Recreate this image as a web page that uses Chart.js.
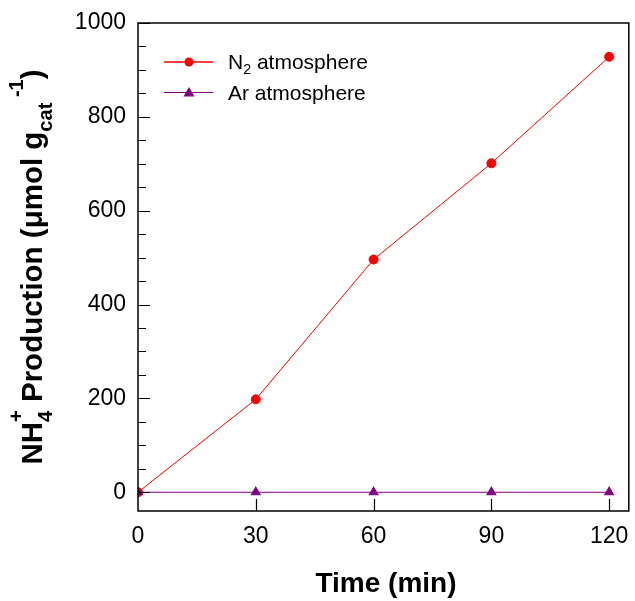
<!DOCTYPE html>
<html>
<head>
<meta charset="utf-8">
<script src="https://cdn.jsdelivr.net/npm/chart.js@4"></script>
<style>
	html, body { margin: 0; padding: 0; background: #fff; }
	#wrap { width: 635px; height: 601px; }
</style>
</head>
<body>
<div id="wrap"><canvas id="prodChart" width="635" height="601"></canvas></div>
<script>
const times = [0, 30, 60, 90, 120];
const n2Values = [0, 198, 496, 701, 928];
const arValues = [0, 0, 0, 0, 0];
const xTicks = [0, 30, 60, 90, 120];
const yTicks = [0, 200, 400, 600, 800, 1000];
const yMinorTicks = [50, 100, 150, 250, 300, 350, 450, 500, 550, 650, 700, 750, 850, 900, 950];

const FONT = '"Liberation Sans", Arial, sans-serif';
const RED = '#ff0000';
const PURPLE = '#800080';

// draws a run of text pieces with sub/superscripts, returns width
const richText = (ctx, parts, x, y, size, bold, draw) => {
	let cx = x;
	parts.forEach(p => {
		const s = p.small ? size * 0.68 : size;
		ctx.font = (bold ? 'bold ' : '') + s + 'px ' + FONT;
		let w = 0;
		p.t.forEach((t, i) => {
			const dy = p.pos[i] === 'sub' ? size * 0.34 : p.pos[i] === 'sup' ? -size * 0.65 : 0;
			if (draw) ctx.fillText(t, cx, y + dy);
			w = Math.max(w, ctx.measureText(t).width);
		});
		cx += w;
	});
	return cx - x;
};

const frame = {
	id: 'frame',
	afterDatasetsDraw(chart) {
		const { ctx, chartArea: a, scales: { x, y } } = chart;
		ctx.save();
		ctx.strokeStyle = '#000';
		ctx.lineWidth = 1.5;
		ctx.strokeRect(a.left, a.top, a.right - a.left, a.bottom - a.top);
		ctx.lineWidth = 1.2;
		ctx.beginPath();
		yTicks.forEach(v => {
			const py = Math.round(y.getPixelForValue(v)) + 0.5;
			ctx.moveTo(a.left, py); ctx.lineTo(a.left + 12, py);
		});
		yMinorTicks.forEach(v => {
			const py = Math.round(y.getPixelForValue(v)) + 0.5;
			ctx.moveTo(a.left, py); ctx.lineTo(a.left + 8, py);
		});
		xTicks.slice(1).forEach(v => {
			const px = Math.round(x.getPixelForValue(v)) + 0.5;
			ctx.moveTo(px, a.bottom); ctx.lineTo(px, a.bottom - 12);
		});
		ctx.stroke();

		// legend
		const items = [
			{ label: [{ t: ['N'], pos: [''] }, { t: ['2'], pos: ['sub'], small: true }, { t: [' atmosphere'], pos: [''] }], color: RED, style: 'circle', y: 62, lw: 1.6 },
			{ label: [{ t: ['Ar atmosphere'], pos: [''] }], color: PURPLE, style: 'triangle', y: 92.5, lw: 1 }
		];
		ctx.textBaseline = 'middle';
		ctx.textAlign = 'left';
		items.forEach(it => {
			ctx.strokeStyle = it.color;
			ctx.fillStyle = it.color;
			ctx.lineWidth = it.lw;
			ctx.beginPath(); ctx.moveTo(164, it.y); ctx.lineTo(213, it.y); ctx.stroke();
			ctx.beginPath();
			if (it.style === 'circle') ctx.arc(189, it.y, 4.5, 0, Math.PI * 2);
			else { ctx.moveTo(189, it.y - 5.5); ctx.lineTo(194.5, it.y + 4); ctx.lineTo(183.5, it.y + 4); ctx.closePath(); }
			ctx.fill();
			ctx.fillStyle = '#000';
			richText(ctx, it.label, 228, Math.round(it.y) + 1, 21, false, true);
		});

		// x title
		ctx.textAlign = 'center';
		ctx.textBaseline = 'alphabetic';
		ctx.font = 'bold 28px ' + FONT;
		ctx.fillText('Time (min)', 386, 592);

		// y title
		const yParts = [
			{ t: ['NH'], pos: [''] },
			{ t: ['4', '+'], pos: ['sub', 'sup'], small: true },
			{ t: [' Production (\u03bcmol g'], pos: [''] },
			{ t: ['cat'], pos: ['sub'], small: true },
			{ t: [' -1'], pos: ['sup'], small: true },
			{ t: [')'], pos: [''] }
		];
		ctx.textAlign = 'left';
		const w = richText(ctx, yParts, 0, 0, 29.5, true, false);
		ctx.translate(42, 267);
		ctx.rotate(-Math.PI / 2);
		richText(ctx, yParts, -w / 2, 0, 29.5, true, true);
		ctx.restore();
	}
};

new Chart('prodChart', {
	type: 'line',
	data: {
		datasets: [
			{
				label: 'N2 atmosphere',
				data: times.map((t, i) => ({ x: t, y: n2Values[i] })),
				borderColor: RED,
				backgroundColor: RED,
				borderWidth: 1,
				pointRadius: 4.5,
				pointStyle: 'circle',
				order: 1
			},
			{
				label: 'Ar atmosphere',
				data: times.map((t, i) => ({ x: t, y: arValues[i] })),
				borderColor: PURPLE,
				backgroundColor: PURPLE,
				borderWidth: 1.2,
				pointRadius: 5,
				pointStyle: 'triangle',
				order: 0
			}
		]
	},
	options: {
		responsive: false,
		animation: false,
		layout: { padding: { top: 23, right: 5, left: 0, bottom: 0 } },
		plugins: { legend: { display: false }, tooltip: { enabled: false } },
		scales: {
			x: {
				type: 'linear',
				min: 0,
				max: 125,
				afterBuildTicks: s => { s.ticks = xTicks.map(v => ({ value: v })); },
				afterFit: s => { s.height = 90; s.paddingLeft = 0; s.paddingRight = 0; },
				grid: { display: false, drawTicks: false },
				border: { display: false },
				ticks: { color: '#000', font: { family: FONT, size: 23 }, padding: 12, maxRotation: 0, callback: v => String(v) }
			},
			y: {
				min: -40,
				max: 1000,
				afterBuildTicks: s => { s.ticks = yTicks.map(v => ({ value: v })); },
				afterFit: s => { s.width = 138; s.paddingTop = 0; s.paddingBottom = 0; },
				grid: { display: false, drawTicks: false },
				border: { display: false },
				ticks: { color: '#000', font: { family: FONT, size: 23 }, padding: 12, callback: v => String(v) }
			}
		}
	},
	plugins: [frame]
});
</script>
</body>
</html>
